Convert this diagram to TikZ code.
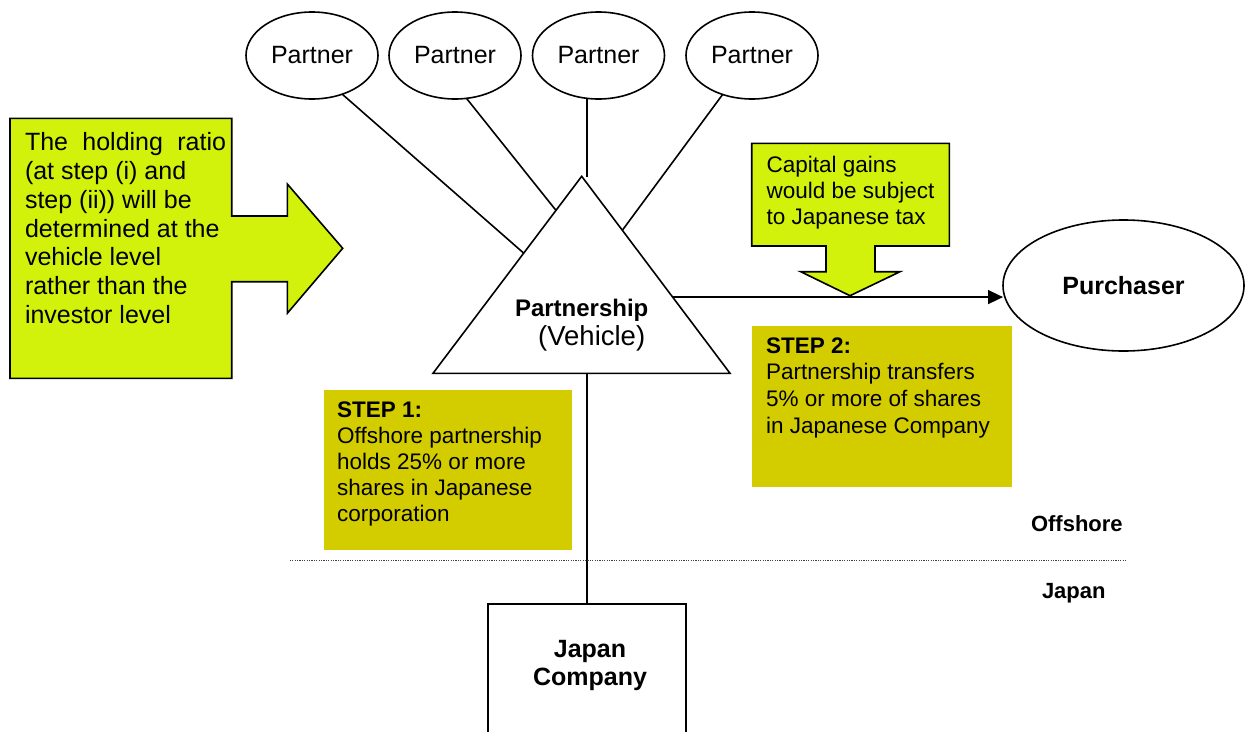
\documentclass[tikz,border=0pt]{standalone}
\usepackage{fontspec}
\setmainfont{Liberation Sans}
\usetikzlibrary{shapes.geometric,arrows.meta,calc}

\definecolor{notefill}{RGB}{210,241,11}
\definecolor{stepfill}{RGB}{211,205,0}

\begin{document}
\begin{tikzpicture}[x=1pt,y=-1pt,
  every node/.style={inner sep=0pt,outer sep=0pt},
  ln/.style={line width=1.6pt,black},
  partner/.style={ellipse,draw,line width=1.6pt,minimum width=132pt,minimum height=87pt,
    font=\fontsize{25}{30}\selectfont},
  stepbox/.style={rectangle,fill=stepfill,anchor=north west},
  steptext/.style={anchor=base west,text width=240pt,align=flush left,
    font=\fontsize{22.5}{26.3}\selectfont},
  note/.style={fill=notefill,draw=black,line width=1.6pt,line join=miter},
  region/.style={anchor=base west,font=\fontsize{22}{26}\selectfont\bfseries}
]
\clip (0,0) rectangle (1246,731);
\fill[white] (0,0) rectangle (1246,731);

% partners
\node[partner] (p1) at (312,55.5) {Partner};
\node[partner] (p2) at (455,55.5) {Partner};
\node[partner] (p3) at (598.5,55.5) {Partner};
\node[partner] (p4) at (752,55.5) {Partner};

% partnership triangle
\coordinate (apex) at (581.7,176.3);
\coordinate (bl) at (433,373.3);
\coordinate (br) at (730,373.3);
\draw[ln,line join=miter] (apex) -- (br) -- (bl) -- cycle;
\node[anchor=base,font=\fontsize{24}{28}\selectfont\bfseries] (pship) at (581.7,316.7) {Partnership};
\node[anchor=base,font=\fontsize{27.5}{30}\selectfont] (veh) at (591.7,345) {(Vehicle)};

% partner links
\coordinate (e1) at ($(apex)!0.39!(bl)$);
\coordinate (e2) at ($(apex)!0.173!(bl)$);
\coordinate (e3) at (586.7,176.7);
\coordinate (e4) at ($(apex)!0.274!(br)$);
\draw[ln] (p1.-52) -- (e1);
\draw[ln] (p2.-75) -- (e2);
\draw[ln] (p3.south -| e3) -- (e3);
\draw[ln] (p4.-127) -- (e4);

% purchaser and sale
\node[ellipse,draw,line width=1.6pt,minimum width=241pt,minimum height=131pt,
  font=\fontsize{25}{30}\selectfont\bfseries] (pur) at (1123.5,285.5) {Purchaser};
\coordinate (sale) at ($(apex)!0.613!(br)$);
\draw[ln,-{Triangle[length=15pt,width=14pt]}] (sale) -- (sale -| pur.west);

% Japan company
\node[rectangle,draw,line width=1.6pt,minimum width=198.3pt,minimum height=160pt,anchor=north] (jbox) at (586.85,604) {};
\node[anchor=base,text width=200pt,align=center,font=\fontsize{25}{28.4}\selectfont\bfseries] (jtxt) at (590,657.3) {Japan\\Company};
\draw[ln] (jbox.north) -- (jbox.north |- bl);

% border between offshore and Japan
\coordinate (dl) at (289.8,560.7);
\coordinate (dr) at (1127,560.7);
\draw[line width=1pt,black!75,dash pattern=on 1.2pt off 1.2pt] (dl) -- (dr);
\node[region] (off) at (1031,531.7) {Offshore};
\node[region] (jp) at (1042,598) {Japan};

% step boxes
\node[stepbox,minimum width=248.1pt,minimum height=160pt] (s1) at (323.6,390) {};
\node[steptext,font=\fontsize{22.5}{26}\selectfont] (s1t) at (337.2,417.3)
  {\textbf{STEP 1:}\\Offshore partnership\\holds 25\% or more\\shares in Japanese\\corporation};
\node[stepbox,minimum width=260pt,minimum height=160.7pt] (s2) at (751.7,326) {};
\node[steptext,font=\fontsize{22.5}{26.6}\selectfont] (s2t) at (766,353.3)
  {\textbf{STEP 2:}\\Partnership transfers\\5\% or more of shares\\in Japanese Company};

% callout: holding ratio
\draw[note] (10,118.3) -- (231.7,118.3) -- (231.7,216) -- (287.3,216) -- (287.3,184)
  -- (342.7,248.3) -- (287.3,313.3) -- (287.3,281.7) -- (231.7,281.7) -- (231.7,378.3)
  -- (10,378.3) -- cycle;
\node[anchor=base west,text width=205pt,align=flush left,font=\fontsize{25}{28.8}\selectfont] (hold) at (25,150.7)
  {\hbox to 201pt{The\hfill holding\hfill ratio}\\(at step (i) and\\step (ii)) will be\\determined at the\\vehicle level\\rather than the\\investor level};

% callout: capital gains
\draw[note] (751.7,143.3) -- (949.3,143.3) -- (949.3,246) -- (875,246) -- (875,271.7)
  -- (900,271.7) -- (850,295.7) -- (800.7,271.7) -- (826,271.7) -- (826,246)
  -- (751.7,246) -- cycle;
\node[steptext,font=\fontsize{22.5}{25.8}\selectfont] (cg) at (766.7,172.7)
  {Capital gains\\would be subject\\to Japanese tax};
\end{tikzpicture}
\end{document}
